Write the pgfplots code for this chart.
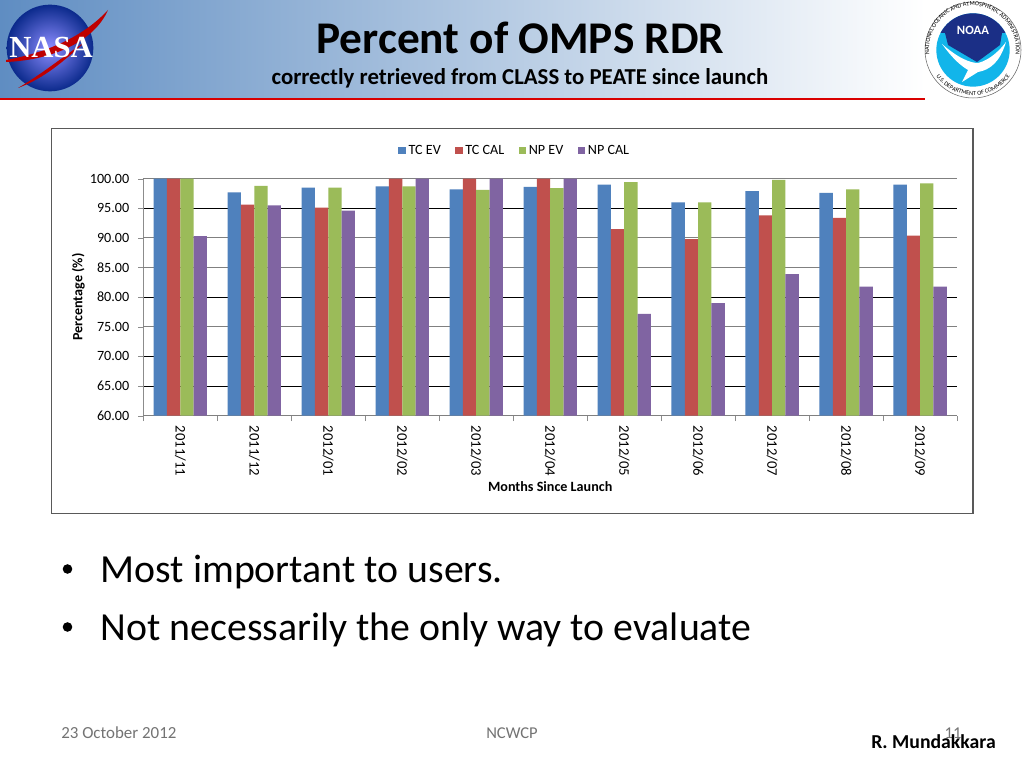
\documentclass[border=0pt]{standalone}
\usepackage{fontspec}
\setmainfont{Carlito}
\usepackage{pgfplots}
\pgfplotsset{compat=1.18}
\usetikzlibrary{decorations.text}
\definecolor{cB}{HTML}{4F81BD}
\definecolor{cR}{HTML}{C0504D}
\definecolor{cG}{HTML}{9BBB59}
\definecolor{cP}{HTML}{8064A2}
\definecolor{hL}{HTML}{5F8DC2}
\definecolor{nasaB}{HTML}{0B2A8C}
\definecolor{noaaB}{HTML}{1B2F86}
\definecolor{noaaC}{HTML}{12B5EA}
\pgfplotstableread{
x  tcev tccal npev npcal
0  100  100   100  90.3
1  97.7 95.6  98.8 95.5
2  98.5 95.1  98.5 94.6
3  98.7 100   98.7 100
4  98.2 100   98.1 100
5  98.6 100   98.4 100
6  99.0 91.5  99.4 77.2
7  96.0 89.8  96.0 79.0
8  97.9 93.8  99.8 83.9
9  97.6 93.4  98.2 81.8
10 99.0 90.4  99.2 81.8
}\data
\begin{document}
\begin{tikzpicture}
\path[use as bounding box] (0,0) rectangle (768pt,576pt);
\begin{scope}[shift={(0,576pt)},x=0.75pt,y=-0.75pt]
\fill[white] (0,0) rectangle (1024,768);
\shade[left color=hL,right color=white] (0,0) rectangle (925,98);
\fill[red!85!black] (0,98.2) rectangle (925,100);
\node[font=\fontsize{34}{38}\selectfont\bfseries] at (520.5,38) {Percent of OMPS RDR};
\node[font=\fontsize{17.1}{20}\selectfont\bfseries] at (520,78) {correctly retrieved from CLASS to PEATE since launch};
% NASA logo
\shade[inner color=blue!45!white,outer color=nasaB] (50,48) circle [radius=32.5pt];
\fill[red!75!black] (6,60) .. controls (50,52) and (85,35) .. (108,10) .. controls (95,40) and (55,60) .. (6,62) -- cycle;
\fill[red!75!black] (18,88) .. controls (45,72) and (65,55) .. (85,42) .. controls (65,60) and (45,78) .. (18,88) -- cycle;
\node[white,font=\fontsize{23}{25}\selectfont\bfseries,inner sep=0pt] at (51,48) {\setmainfont{Liberation Serif}\bfseries NASA};
% NOAA logo
\fill[white] (925,0) rectangle (1024,100);
\draw[black!60,line width=0.4pt] (973,50) circle [radius=36pt];
\fill[noaaC] (973,50) circle [radius=27.5pt];
\begin{scope}
\clip (973,50) circle [radius=27.5pt];
\fill[noaaB] (935,10) rectangle (1010,33) (945,33) -- (1002,33) -- (1000,45) -- (977,62) -- (948,45) -- cycle;
\fill[white] (942,44) .. controls (958,58) and (970,63) .. (978,63) .. controls (990,60) and (1000,50) .. (1006,42) .. controls (1000,62) and (990,70) .. (978,72) -- (962,82) -- (968,70) .. controls (958,64) and (950,55) .. (942,44) -- cycle;
\end{scope}
\node[white,font=\fontsize{9.5}{11}\selectfont\bfseries,inner sep=0pt] at (973,30) {NOAA};
\path[postaction={decorate},decoration={text along path,text align=center,text={|\fontsize{4.6}{5}\selectfont|NATIONAL OCEANIC AND ATMOSPHERIC ADMINISTRATION}}] (931,62) arc [start angle=197,end angle=-17,radius=32.5pt];
\path[postaction={decorate},decoration={text along path,text align=center,text={|\fontsize{4.6}{5}\selectfont|U.S. DEPARTMENT OF COMMERCE}}] (933.8,72.7) arc [start angle=-150,end angle=-30,radius=34pt];
% chart frame
\draw[black!65,line width=0.9pt,fill=white] (51.5,128.5) rectangle (973,513.5);
\end{scope}
\begin{axis}[
  at={(107.5pt,264.2pt)},anchor=south west,
  scale only axis,width=610.3pt,height=177.8pt,
  xmin=-0.5,xmax=10.5,ymin=60,ymax=100,
  ybar=0pt,bar width=10pt,
  ytick={65,70,80,95},
  extra y ticks={60,75,85,90,100},
  extra y tick style={major y grid style={black!50,line width=0.7pt}},
  xtick={0,...,10},
  xticklabels={2011/11,2011/12,2012/01,2012/02,2012/03,2012/04,2012/05,2012/06,2012/07,2012/08,2012/09},
  minor xtick={-0.5,0.5,...,10.5},
  /pgf/number format/assume math mode=true,
  /pgf/number format/fixed,/pgf/number format/fixed zerofill,/pgf/number format/precision=2,
  tick label style={font=\fontsize{10.6}{12}\selectfont,black},
  yticklabel style={xshift=-3pt},
  xticklabel style={font=\fontsize{11}{12}\selectfont,rotate=-90,anchor=west},
  xtick style={draw=none},
  minor tick length=4pt,
  minor x tick style={draw=black!45},
  ytick style={draw=black!45},
  major tick length=4pt,
  tick align=outside,
  ymajorgrids,
  major y grid style={black,line width=0.7pt},
  axis line style={draw=black!45,line width=0.7pt},
  axis x line*=bottom,
  axis y line*=left,
  ylabel={\bfseries Percentage (\%)},
  ylabel style={font=\fontsize{10.6}{12}\selectfont,at={(axis description cs:-0.08,0.5)},anchor=center},
  xlabel={\bfseries Months Since Launch},
  xlabel style={font=\fontsize{10.6}{12}\selectfont,at={(axis description cs:0.5,-0.3)},anchor=center},
  legend style={at={(0.4568,1.118)},anchor=center,draw=none,fill=none,font=\fontsize{10.6}{12}\selectfont,legend columns=4,/tikz/every even column/.append style={column sep=8.7pt},nodes={text height=7.5pt,text depth=2pt},inner sep=0pt},
  legend image code/.code={\fill[#1] (0cm,-0.1cm) rectangle (0.2cm,0.1cm);},
]
\addplot[draw=none,fill=cB] table[x=x,y=tcev]{\data};
\addplot[draw=none,fill=cR] table[x=x,y=tccal]{\data};
\addplot[draw=none,fill=cG] table[x=x,y=npev]{\data};
\addplot[draw=none,fill=cP] table[x=x,y=npcal]{\data};
\legend{TC EV,TC CAL,NP EV,NP CAL}
\end{axis}
\begin{scope}[shift={(0,576pt)},x=0.75pt,y=-0.75pt]
\fill[black] (67.5,569) circle [radius=3.6pt];
\fill[black] (67.5,627) circle [radius=3.6pt];
\node[anchor=west,inner sep=0pt,font=\fontsize{29.85}{33}\selectfont,black] at (100.5,572) {Most important to users.};
\node[anchor=west,inner sep=0pt,font=\fontsize{29.85}{33}\selectfont,black] at (100.5,630) {Not necessarily the only way to evaluate};
\node[anchor=west,inner sep=0pt,font=\fontsize{12.7}{15}\selectfont,black!55] at (61,733) {23 October 2012};
\node[inner sep=0pt,font=\fontsize{12.4}{15}\selectfont,black!55] at (512,733) {NCWCP};
\node[inner sep=0pt,font=\fontsize{12.4}{15}\selectfont,black!55] at (953,733) {11};
\node[anchor=east,inner sep=0pt,font=\fontsize{14.8}{17}\selectfont\bfseries] at (996,742) {R. Mundakkara};
\end{scope}
\end{tikzpicture}
\end{document}
